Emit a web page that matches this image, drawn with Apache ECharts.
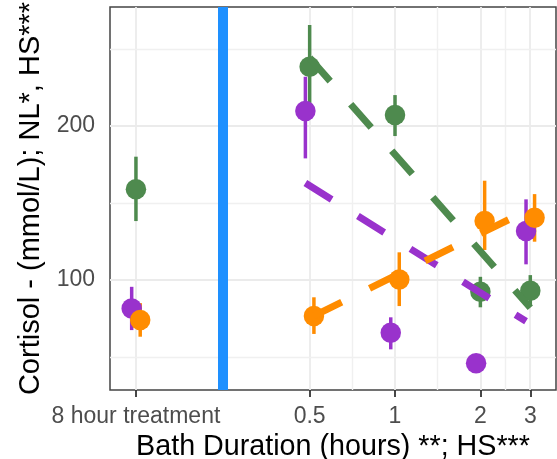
<!DOCTYPE html>
<html>
<head>
<meta charset="utf-8">
<script src="https://cdn.jsdelivr.net/npm/echarts@6/dist/echarts.min.js"></script>
<style>
  html, body { margin: 0; padding: 0; background: #ffffff; }
  #chart { width: 557px; height: 459px; }
</style>
</head>
<body>
<div id="chart"></div>
<script>
// Bath duration positions (hours) and their tick labels; the control sits left of the divider
const hourTicks = [0.122, 0.5, 1, 2, 3];
const tickLabels = ['8 hour treatment', '0.5', '1', '2', '3'];
const yTicks = [100, 200];

// Cortisol means with lower / upper error limits, per group, in hourTicks order
const purpleMean = [81.6, 209.7, 65.8, 45.9, 131.8];
const purpleLow  = [67.5, 179.0, 55.0, 43.5, 110.2];
const purpleHigh = [95.6, 232.0, 75.8, 48.5, 152.4];

const greenMean = [158.9, 238.5, 207.1, 92.4, 93.1];
const greenLow  = [138.3, 211.4, 193.5, 82.3, 83.8];
const greenHigh = [180.1, 265.6, 220.1, 102.1, 103.2];

const orangeMean = [74.0, 76.6, 100.4, 138.3, 140.5];
const orangeLow  = [63.2, 65.0, 83.1, 119.5, 124.9];
const orangeHigh = [85.0, 88.8, 118.0, 164.5, 155.8];

// Fitted trend over the bath durations (start and end of each line)
const fitHours = [0.5, 3];
const purpleFit = [163.0, 73.2];
const greenFit  = [244.3, 82.0];
const orangeFit = [76.8, 147.5];

const COLORS = { purple: '#9932CC', green: '#4E8A4E', orange: '#FF8C00', divider: '#1E90FF' };
const FONT = 'Liberation Sans, Arial, sans-serif';
const DODGE = 0.05;   // horizontal offset between groups, in log2(hours)

const lg = Math.log2;
const tickPos = hourTicks.map(lg);
// minor gridlines half-way between the major ones
const minorPos = tickPos.slice(1).map((v, i) => (v + tickPos[i]) / 2);
const dividerPos = minorPos[0];

function groupSeries(mean, low, high, offset, color, z) {
  const errData = hourTicks.map((h, i) => [lg(h) + offset, low[i], high[i]]);
  const ptData = hourTicks.map((h, i) => [lg(h) + offset, mean[i]]);
  return {
    err: {
      type: 'custom', z: 3, silent: true,
      data: errData,
      encode: { x: 0, y: [1, 2] },
      renderItem: function (params, api) {
        const a = api.coord([api.value(0), api.value(1)]);
        const b = api.coord([api.value(0), api.value(2)]);
        return { type: 'line', shape: { x1: a[0], y1: a[1], x2: b[0], y2: b[1] },
                 style: { stroke: color, lineWidth: 3.5 } };
      }
    },
    pts: {
      type: 'scatter', z: z, silent: true, symbol: 'circle', symbolSize: 20.5,
      itemStyle: { color: color, opacity: 1, borderWidth: 0 },
      data: ptData
    }
  };
}

function fitSeries(fit, offset, color) {
  return {
    type: 'line', z: 8, silent: true, showSymbol: false, symbol: 'none',
    data: fitHours.map((h, i) => [lg(h) + offset, fit[i]]),
    lineStyle: { color: color, width: 7, type: [31, 31], cap: 'butt' }
  };
}

const P = groupSeries(purpleMean, purpleLow, purpleHigh, -DODGE, COLORS.purple, 4);
const G = groupSeries(greenMean, greenLow, greenHigh, 0, COLORS.green, 5);
const O = groupSeries(orangeMean, orangeLow, orangeHigh, DODGE, COLORS.orange, 6);

const gridLines = [];
tickPos.forEach(v => gridLines.push({ xAxis: v, lineStyle: { color: '#EBEBEB', width: 1.8, type: 'solid' } }));
minorPos.forEach(v => gridLines.push({ xAxis: v, lineStyle: { color: '#F0F0F0', width: 1.4, type: 'solid' } }));
yTicks.forEach(v => gridLines.push({ yAxis: v, lineStyle: { color: '#EBEBEB', width: 1.8, type: 'solid' } }));
[50, 150, 250].forEach(v => gridLines.push({ yAxis: v, lineStyle: { color: '#F0F0F0', width: 1.4, type: 'solid' } }));

const chart = echarts.init(document.getElementById('chart'), null, { renderer: 'canvas' });
chart.setOption({
  animation: false,
  backgroundColor: '#ffffff',
  textStyle: { fontFamily: FONT },
  grid: { left: 110, right: 1, top: 7, bottom: 69, show: true, containLabel: false,
          outerBoundsMode: 'none',
          borderColor: '#444444', borderWidth: 1.5, backgroundColor: 'transparent' },
  xAxis: {
    type: 'value', min: -3.339, max: 1.886,
    name: 'Bath Duration (hours) **; HS***',
    nameLocation: 'middle', nameGap: 38,
    nameTextStyle: { fontFamily: FONT, fontSize: 28.7, color: '#000000' },
    axisLine: { show: false },
    splitLine: { show: false },
    axisTick: { show: true, customValues: tickPos, length: 7, lineStyle: { color: '#333333', width: 1.8 } },
    axisLabel: {
      customValues: tickPos, margin: 15,
      fontFamily: FONT, fontSize: 23, color: '#4D4D4D',
      formatter: function (v) {
        const i = tickPos.findIndex(t => Math.abs(t - v) < 1e-6);
        return i >= 0 ? tickLabels[i] : '';
      }
    }
  },
  yAxis: {
    type: 'value', min: 28.6, max: 277.3,
    name: 'Cortisol - (mmol/L); NL*, HS***',
    nameLocation: 'middle', nameGap: 57,
    nameTextStyle: { fontFamily: FONT, fontSize: 29, color: '#000000' },
    axisLine: { show: false },
    splitLine: { show: false },
    axisTick: { show: true, customValues: yTicks, length: 7, lineStyle: { color: '#333333', width: 1.8 } },
    axisLabel: { customValues: yTicks, margin: 15, fontFamily: FONT, fontSize: 23, color: '#4D4D4D' }
  },
  series: [
    {
      type: 'scatter', data: [], z: 1, silent: true,
      markLine: { z: 1, silent: true, symbol: ['none', 'none'], label: { show: false },
                  animation: false, data: gridLines }
    },
    {
      type: 'scatter', data: [], z: 2, silent: true,
      markLine: { z: 2, silent: true, symbol: ['none', 'none'], label: { show: false }, animation: false,
                  data: [{ xAxis: dividerPos, lineStyle: { color: COLORS.divider, width: 10, type: 'solid' } }] }
    },
    P.err, G.err, O.err,
    P.pts, G.pts, O.pts,
    fitSeries(purpleFit, -DODGE, COLORS.purple),
    fitSeries(greenFit, 0, COLORS.green),
    fitSeries(orangeFit, DODGE, COLORS.orange)
  ]
});
</script>
</body>
</html>
